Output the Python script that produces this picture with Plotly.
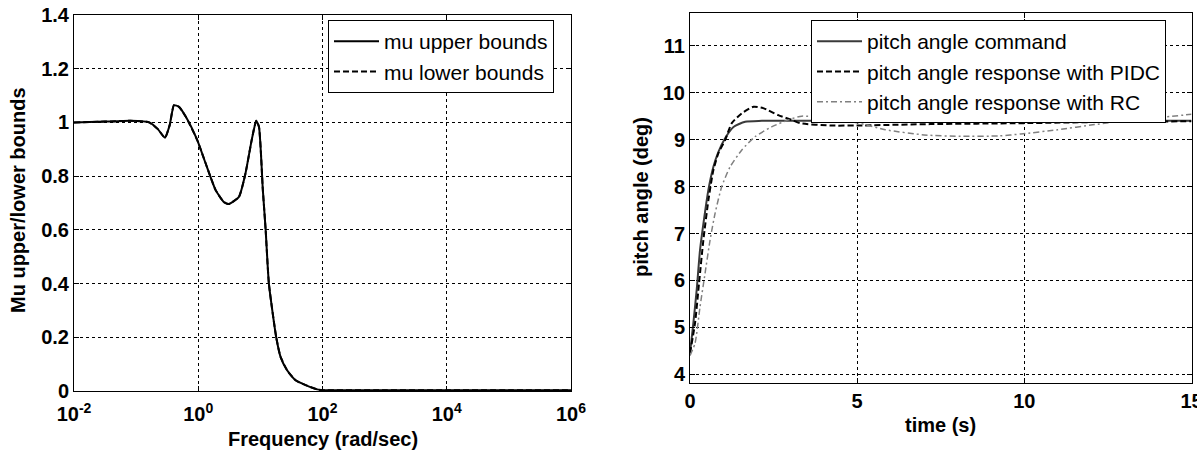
import plotly.graph_objects as go

# ---------------- data: left panel (mu bounds) ----------------
freq = [0.01, 0.0316, 0.0813, 0.162, 0.224, 0.291, 0.347, 0.407, 0.490, 0.631,
        0.964, 1.318, 1.905, 2.570, 3.090, 4.519, 5.754, 7.244, 8.570, 9.484,
        10.96, 12.16, 13.71, 17.99, 21.13, 26.92, 36.90, 53.46, 82.22, 100.0,
        1e3, 1e4, 1e5, 1e6]
mu_upper = [1.0, 1.003, 1.006, 1.0, 0.975, 0.943, 0.99, 1.064, 1.058, 1.021,
            0.934, 0.847, 0.748, 0.704, 0.696, 0.723, 0.81, 0.934, 1.006, 0.984,
            0.748, 0.60, 0.40, 0.20, 0.127, 0.077, 0.040, 0.022, 0.006, 0.003,
            0.003, 0.003, 0.003, 0.003]
mu_lower = [1.0, 1.003, 1.006, 1.0, 0.975, 0.943, 0.99, 1.064, 1.058, 1.021,
            0.934, 0.847, 0.748, 0.704, 0.696, 0.723, 0.81, 0.934, 1.006, 0.984,
            0.748, 0.60, 0.40, 0.20, 0.127, 0.077, 0.040, 0.022, 0.006, 0.003,
            0.003, 0.003, 0.003, 0.003]
left_xtick_vals = [0.01, 1, 100, 1e4, 1e6]
left_xtick_text = ["10<sup>-2</sup>", "10<sup>0</sup>", "10<sup>2</sup>",
                   "10<sup>4</sup>", "10<sup>6</sup>"]
left_ytick_vals = [0, 0.2, 0.4, 0.6, 0.8, 1.0, 1.2, 1.4]
left_ytick_text = ["0", "0.2", "0.4", "0.6", "0.8", "1", "1.2", "1.4"]

# ---------------- data: right panel (pitch angle) ----------------
t_cmd = [0, 0.10, 0.20, 0.30, 0.43, 0.55, 0.70, 0.85, 1.05, 1.30, 1.65, 2.15, 15]
pitch_cmd = [4.45, 5.09, 5.80, 6.65, 7.36, 7.93, 8.42, 8.74, 9.03, 9.27, 9.38, 9.40, 9.40]

t_pidc = [0, 0.15, 0.27, 0.40, 0.55, 0.70, 0.85, 1.05, 1.25, 1.55, 1.90, 2.19,
          2.64, 3.04, 3.29, 4.19, 5.0, 7.18, 9.97, 12.66, 15]
pitch_pidc = [4.45, 5.09, 5.94, 6.86, 7.71, 8.35, 8.71, 8.99, 9.35, 9.56, 9.70, 9.67,
              9.52, 9.42, 9.35, 9.30, 9.30, 9.33, 9.35, 9.38, 9.39]

t_rc = [0, 0.15, 0.3, 0.45, 0.6, 0.75, 0.95, 1.2, 1.55, 1.94, 2.44, 2.94, 3.34,
        4.1, 5.0, 5.84, 7.0, 8.1, 9.25, 9.9, 11.0, 12.1, 13.2, 14.2, 15]
pitch_rc = [4.4, 4.66, 5.44, 6.15, 6.86, 7.43, 8.0, 8.42, 8.78, 9.06, 9.27, 9.42, 9.50,
            9.46, 9.36, 9.21, 9.10, 9.07, 9.08, 9.12, 9.21, 9.32, 9.42, 9.48, 9.54]
right_xtick_vals = [0, 5, 10, 15]
right_ytick_vals = [4, 5, 6, 7, 8, 9, 10, 11]

FONT = "Liberation Sans, Arial, Helvetica, sans-serif"
W, H = 1197, 455

fig = go.Figure()

fig.add_trace(go.Scatter(x=freq, y=mu_upper, mode="lines", name="mu upper bounds",
                         line=dict(color="#000000", width=2, shape="spline", smoothing=0.5),
                         xaxis="x", yaxis="y", legend="legend"))
fig.add_trace(go.Scatter(x=freq, y=mu_lower, mode="lines", name="mu lower bounds",
                         line=dict(color="#000000", width=2, dash="6px,3px",
                                   shape="spline", smoothing=0.5),
                         xaxis="x", yaxis="y", legend="legend"))

fig.add_trace(go.Scatter(x=t_cmd, y=pitch_cmd, mode="lines", name="pitch angle command",
                         line=dict(color="#3a3a3a", width=2, shape="spline", smoothing=0.6),
                         xaxis="x2", yaxis="y2", legend="legend2"))
fig.add_trace(go.Scatter(x=t_pidc, y=pitch_pidc, mode="lines",
                         name="pitch angle response with PIDC",
                         line=dict(color="#000000", width=2, dash="6px,3px",
                                   shape="spline", smoothing=0.6),
                         xaxis="x2", yaxis="y2", legend="legend2"))
fig.add_trace(go.Scatter(x=t_rc, y=pitch_rc, mode="lines",
                         name="pitch angle response with RC",
                         line=dict(color="#808080", width=1.5, dash="6px,3px,2px,3px",
                                   shape="spline", smoothing=0.6),
                         xaxis="x2", yaxis="y2", legend="legend2"))

axis_common = dict(
    showline=True, linecolor="#000000", linewidth=1, mirror="ticks",
    ticks="inside", ticklen=5, tickcolor="#000000",
    showgrid=True, gridcolor="#000000", gridwidth=1, griddash="3px,3px",
    zeroline=False, automargin=False, ticklabeloverflow="allow",
    tickfont=dict(family=FONT, size=20, color="#000000", weight="bold"),
)

fig.update_layout(
    width=W, height=H,
    margin=dict(l=0, r=0, t=0, b=0, pad=0, autoexpand=False),
    paper_bgcolor="#ffffff", plot_bgcolor="#ffffff",
    font=dict(family=FONT, color="#000000"),
    xaxis=dict(type="log", range=[-2, 6], domain=[74 / W, 571 / W],
               tickvals=left_xtick_vals, ticktext=left_xtick_text,
               ticklabelstandoff=5, anchor="y", **axis_common),
    yaxis=dict(range=[0, 1.4], domain=[1 - 391 / H, 1 - 15 / H],
               tickvals=left_ytick_vals, ticktext=left_ytick_text,
               anchor="x", **axis_common),
    xaxis2=dict(range=[0, 15], domain=[690 / W, 1191.5 / W],
                tickvals=right_xtick_vals, anchor="y2", **axis_common),
    yaxis2=dict(range=[3.81, 11.69], domain=[1 - 383.3 / H, 1 - 13.3 / H],
                tickvals=right_ytick_vals, anchor="x2", **axis_common),
    legend=dict(x=328 / W, y=1 - 20 / H, xanchor="left", yanchor="top",
                bgcolor="#ffffff", bordercolor="#000000", borderwidth=1,
                font=dict(family=FONT, size=21, color="#000000"),
                itemwidth=45, traceorder="normal"),
    legend2=dict(x=811 / W, y=1 - 20 / H, xanchor="left", yanchor="top",
                 bgcolor="#ffffff", bordercolor="#000000", borderwidth=1,
                 font=dict(family=FONT, size=21, color="#000000"),
                 itemwidth=45, traceorder="normal"),
    showlegend=True,
)

title_font = dict(family=FONT, size=20, color="#000000", weight="bold")
fig.add_annotation(text="Frequency (rad/sec)", x=323 / W, y=1 - 439 / H,
                   xref="paper", yref="paper", showarrow=False,
                   xanchor="center", yanchor="middle", font=title_font)
fig.add_annotation(text="Mu upper/lower bounds", x=18 / W, y=1 - 200 / H,
                   xref="paper", yref="paper", showarrow=False, textangle=-90,
                   xanchor="center", yanchor="middle", font=title_font)
fig.add_annotation(text="time (s)", x=940.5 / W, y=1 - 425 / H,
                   xref="paper", yref="paper", showarrow=False,
                   xanchor="center", yanchor="middle", font=title_font)
fig.add_annotation(text="pitch angle (deg)", x=641 / W, y=1 - 197 / H,
                   xref="paper", yref="paper", showarrow=False, textangle=-90,
                   xanchor="center", yanchor="middle", font=title_font)

fig.write_html("out.html", config={"displayModeBar": False},
               post_script="document.body.style.margin='0px';")
